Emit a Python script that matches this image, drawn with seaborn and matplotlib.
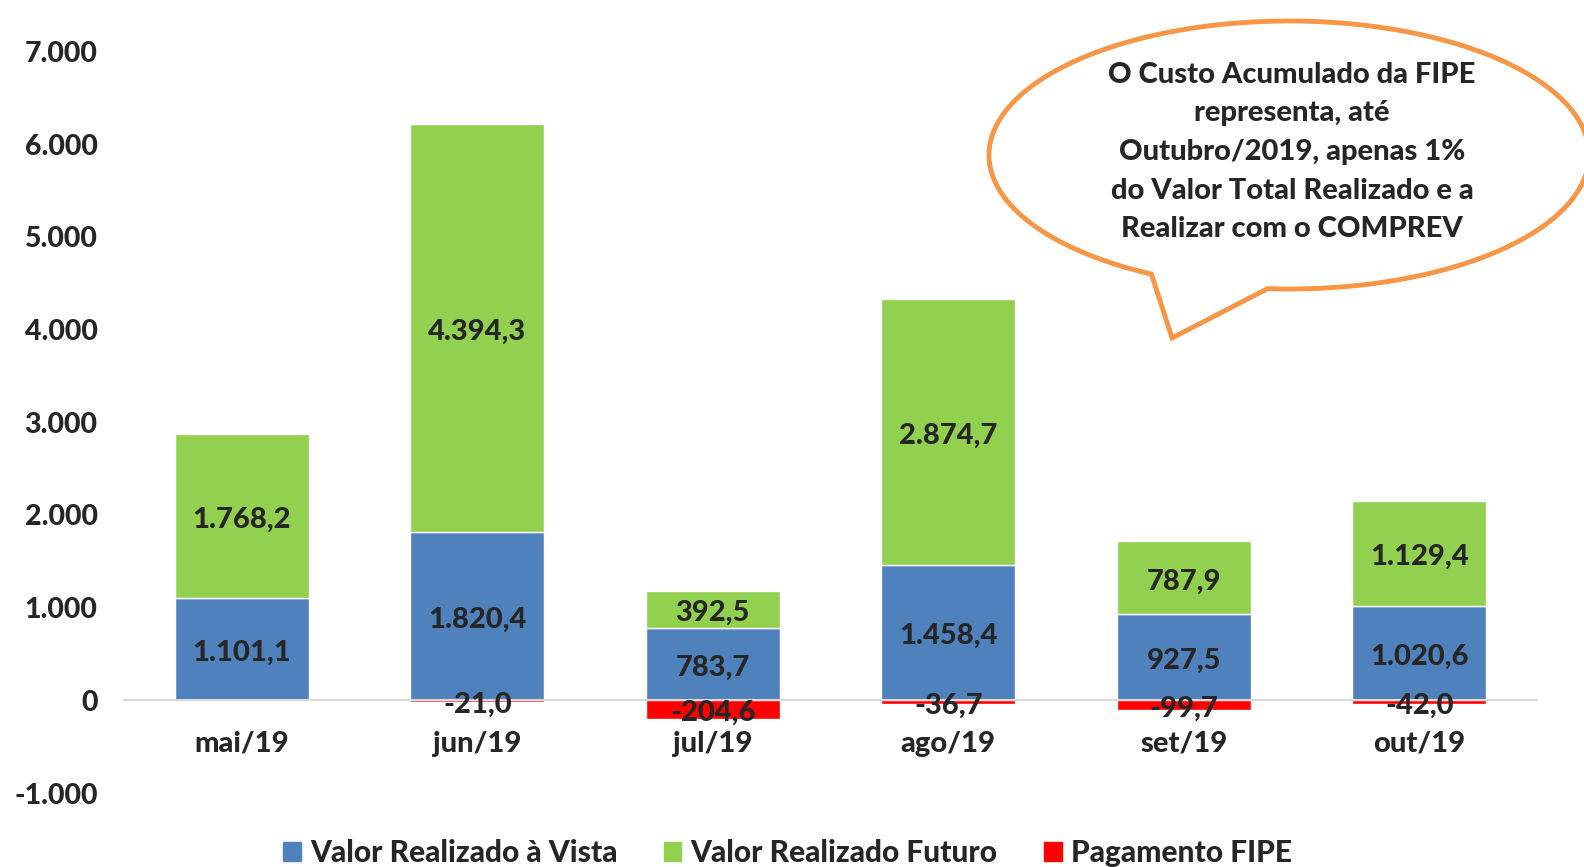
import matplotlib
matplotlib.use("Agg")
import matplotlib.pyplot as plt
import matplotlib.patches as mpatches
from matplotlib.path import Path
import numpy as np
import seaborn as sns

# dados (R$ mil)
meses = ["mai/19", "jun/19", "jul/19", "ago/19", "set/19", "out/19"]
vista = [1101.1, 1820.4, 783.7, 1458.4, 927.5, 1020.6]
futuro = [1768.2, 4394.3, 392.5, 2874.7, 787.9, 1129.4]
fipe = [0.0, -21.0, -204.6, -36.7, -99.7, -42.0]
yticks = [-1000, 0, 1000, 2000, 3000, 4000, 5000, 6000, 7000]

AZUL, VERDE, VERMELHO, LARANJA = "#4F81BD", "#92D050", "#FF0000", "#F79646"
FONTE = ["Lato", "DejaVu Sans"]
PESO = "black"


def br(v, dec=1):
    s = f"{v:,.{dec}f}"
    return s.replace(",", "X").replace(".", ",").replace("X", ".")


def rotulo(ax, x, y, v):
    # levemente abaixo do centro geométrico, como no Excel
    ax.annotate(br(v), (x, y), xytext=(0, -2.5), textcoords="offset points",
                ha="center", va="center", fontsize=21, fontweight=PESO)


sns.set_style("white")
plt.rcParams["font.family"] = FONTE
plt.rcParams["font.weight"] = PESO

W, H = 1584, 867
fig = plt.figure(figsize=(W / 100, H / 100), dpi=100)
ax = fig.add_axes([124 / W, 1 - 793 / H, (1537 - 124) / W, (793 - 51.5) / H])

larg = 0.57
sns.barplot(x=meses, y=vista, color=AZUL, width=larg, ax=ax, saturation=1,
            label="Valor Realizado à Vista")
sns.barplot(x=meses, y=futuro, bottom=vista, color=VERDE, width=larg, ax=ax,
            saturation=1, label="Valor Realizado Futuro")
sns.barplot(x=meses, y=fipe, color=VERMELHO, width=larg, ax=ax, saturation=1,
            label="Pagamento FIPE")

# rótulos de dados
for i in range(len(meses)):
    rotulo(ax, i, vista[i] / 2, vista[i])
    rotulo(ax, i, vista[i] + futuro[i] / 2, futuro[i])
    if fipe[i] != 0:
        rotulo(ax, i, fipe[i] / 2, fipe[i])

ax.set_xlim(-0.5, len(meses) - 0.5)
ax.set_ylim(-1000, 7000)
ax.set_yticks(yticks)
ax.set_yticklabels([br(t, 0) for t in yticks], fontsize=20.5, fontweight=PESO)
ax.tick_params(axis="y", length=0, pad=19)
ax.tick_params(axis="x", length=0, pad=22, labelsize=21)
for lb in ax.get_xticklabels():
    lb.set_fontweight(PESO)

for s in ["left", "right", "top"]:
    ax.spines[s].set_visible(False)
ax.spines["bottom"].set_position(("data", 0))
ax.spines["bottom"].set_color("#D9D9D9")
ax.spines["bottom"].set_linewidth(1.5)
ax.set_xlabel("")
ax.legend().remove()

handles = [mpatches.Patch(color=c) for c in (AZUL, VERDE, VERMELHO)]
fig.legend(handles, ["Valor Realizado à Vista", "Valor Realizado Futuro",
                     "Pagamento FIPE"],
           loc="center", bbox_to_anchor=(0.497, 1 - 853 / H), ncol=3,
           frameon=False, prop={"family": FONTE, "weight": PESO, "size": 21.5},
           handlelength=0.6, handleheight=0.6, handletextpad=0.3,
           columnspacing=1.55)

# balão de fala
cx, cy, a, b = 1289, H - 155, 300, 134
base1 = (1155, H - 271)
ponta = (1172, H - 338)
base2 = (1268, H - 286)
t1 = np.arctan2((base1[1] - cy) / b, (base1[0] - cx) / a) + 2 * np.pi
t2 = np.arctan2((base2[1] - cy) / b, (base2[0] - cx) / a)
ts = np.linspace(t2, t1, 300)
pts = [(cx + a * np.cos(t), cy + b * np.sin(t)) for t in ts]
pts += [ponta, pts[0]]
pts = [(x / W, y / H) for x, y in pts]
codes = [Path.MOVETO] + [Path.LINETO] * (len(pts) - 2) + [Path.CLOSEPOLY]
fig.add_artist(mpatches.PathPatch(Path(pts, codes), transform=fig.transFigure,
                                  facecolor="white", edgecolor=LARANJA,
                                  linewidth=3.5, joinstyle="miter"))
fig.text(1292 / W, 1 - 152 / H,
         "O Custo Acumulado da FIPE\nrepresenta, até\nOutubro/2019, apenas 1%\n"
         "do Valor Total Realizado e a\nRealizar com o COMPREV",
         ha="center", va="center", fontsize=21, fontweight=PESO,
         linespacing=1.6)

fig.savefig("out.png", dpi=100)
